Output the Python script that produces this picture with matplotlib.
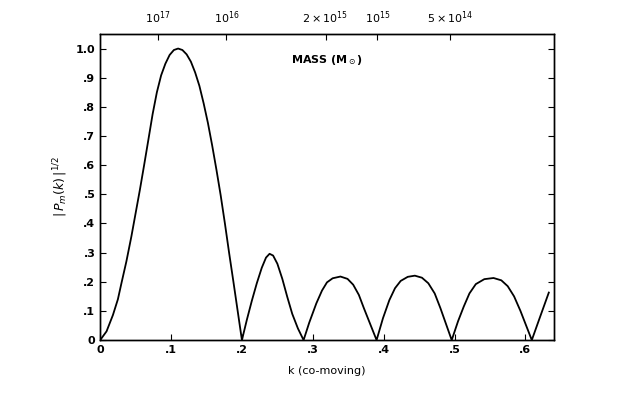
import matplotlib
matplotlib.use("Agg")
import matplotlib.pyplot as plt

# curve: k (co-moving) vs |P_m(k)|^(1/2)
k = [0.000, 0.009, 0.018, 0.025, 0.030, 0.037, 0.044, 0.050, 0.056, 0.062,
     0.068, 0.074, 0.080, 0.086, 0.092, 0.098, 0.104, 0.110, 0.116, 0.122,
     0.128, 0.134, 0.140, 0.146, 0.152, 0.158, 0.164, 0.170, 0.176, 0.182,
     0.188, 0.194, 0.200,
     0.207, 0.214, 0.221, 0.228, 0.234, 0.239, 0.244, 0.250, 0.257, 0.264,
     0.271, 0.279, 0.287,
     0.295, 0.305, 0.313, 0.320, 0.328, 0.339, 0.349, 0.357, 0.365, 0.372,
     0.381, 0.390,
     0.399, 0.408, 0.416, 0.424, 0.434, 0.444, 0.454, 0.463, 0.472, 0.480,
     0.488, 0.496,
     0.505, 0.513, 0.521, 0.530, 0.542, 0.555, 0.566, 0.575, 0.584, 0.593,
     0.601, 0.609, 0.620, 0.633]
amp = [0.000, 0.030, 0.086, 0.140, 0.195, 0.270, 0.355, 0.435, 0.515, 0.600,
       0.687, 0.775, 0.850, 0.908, 0.948, 0.978, 0.995, 1.000, 0.995, 0.980,
       0.955, 0.918, 0.872, 0.812, 0.745, 0.668, 0.585, 0.497, 0.400, 0.298,
       0.200, 0.100, 0.000,
       0.070, 0.135, 0.195, 0.248, 0.283, 0.296, 0.290, 0.262, 0.210, 0.148,
       0.090, 0.040, 0.000,
       0.060, 0.126, 0.170, 0.198, 0.212, 0.218, 0.210, 0.190, 0.155, 0.110,
       0.055, 0.000,
       0.075, 0.137, 0.178, 0.203, 0.217, 0.221, 0.214, 0.195, 0.160, 0.110,
       0.055, 0.000,
       0.065, 0.115, 0.160, 0.192, 0.209, 0.213, 0.205, 0.185, 0.150, 0.100,
       0.050, 0.000, 0.075, 0.163]

k_ticks = [0, 0.1, 0.2, 0.3, 0.4, 0.5, 0.6]
k_labels = ["0", ".1", ".2", ".3", ".4", ".5", ".6"]
y_ticks = [0, 0.1, 0.2, 0.3, 0.4, 0.5, 0.6, 0.7, 0.8, 0.9, 1.0]
y_labels = ["0", ".1", ".2", ".3", ".4", ".5", ".6", ".7", ".8", ".9", "1.0"]

# mass scale along the top axis
mass_k = [0.081, 0.178, 0.318, 0.391, 0.494]
mass_labels = [r"$10^{17}$", r"$10^{16}$", r"$2\times10^{15}$",
               r"$10^{15}$", r"$5\times10^{14}$"]

fig = plt.figure(figsize=(6.3, 3.95), dpi=100)
ax = fig.add_axes([0.159, 0.139, 0.72, 0.775])
ax.plot(k, amp, color="black", linewidth=1.3)

ax.set_xlim(0, 0.64)
ax.set_ylim(0, 1.05)
ax.set_xticks(k_ticks)
ax.set_xticklabels(k_labels, fontsize=8, fontweight="bold")
ax.set_yticks(y_ticks)
ax.set_yticklabels(y_labels, fontsize=8, fontweight="bold")
ax.tick_params(direction="in", length=4, width=0.8, right=True, top=False)
ax.set_xlabel("k (co-moving)", fontsize=8, labelpad=8)
ax.set_ylabel(r"$|\,P_m(k)\,|^{1/2}$", fontsize=9, labelpad=4)

top = ax.twiny()
top.set_xlim(ax.get_xlim())
top.set_xticks(mass_k)
top.set_xticklabels(mass_labels, fontsize=8)
top.tick_params(direction="in", length=4, width=0.8, pad=6)

ax.text(0.32, 0.96, r"MASS (M$_\odot$)", fontsize=8, fontweight="bold",
        ha="center", va="center")

for a in (ax, top):
    for s in a.spines.values():
        s.set_linewidth(1.0)

fig.savefig("out.png", dpi=100)
